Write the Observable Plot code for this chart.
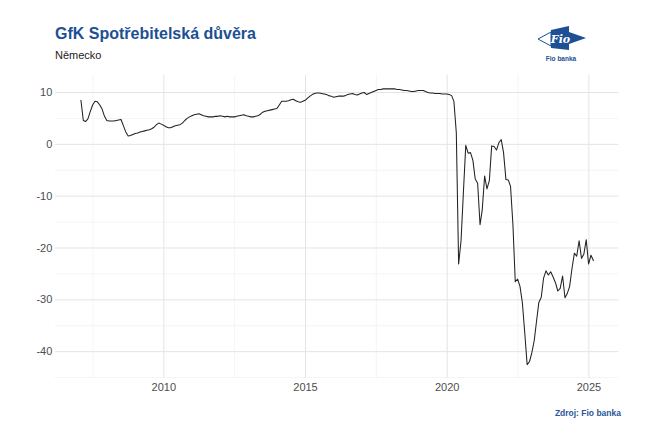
<!DOCTYPE html>
<html><head><meta charset="utf-8">
<script src="https://cdn.jsdelivr.net/npm/d3@7"></script>
<script src="https://cdn.jsdelivr.net/npm/@observablehq/plot@0.6"></script>
<style>
body{margin:0;background:#fff;font-family:"Liberation Sans",Arial,sans-serif;}
#wrap{position:relative;width:645px;height:447px;overflow:hidden;}
#title{position:absolute;left:55px;top:26px;font-size:16px;line-height:16px;font-weight:bold;color:#1c4f94;white-space:nowrap;}
#subtitle{position:absolute;left:55px;top:50px;font-size:11px;line-height:11px;color:#222;}
#logo{position:absolute;left:536px;top:26px;}
#chart{position:absolute;left:0;top:70px;}
#caption{position:absolute;right:24px;top:408px;font-size:8.5px;line-height:10px;font-weight:bold;color:#2a5599;}
</style></head>
<body>
<div id="wrap">
  <div id="title">GfK Spotřebitelská důvěra</div>
  <div id="subtitle">Německo</div>
  <svg id="logo" width="54" height="40" viewBox="0 0 54 40">
    <polygon points="2,13 15,6 15,20" fill="#fff" stroke="#1c4f94" stroke-width="1"/>
    <polygon points="15,4 33,0 33,24 15,22" fill="#1c4f94"/>
    <polygon points="33,6 50,12 33,18" fill="#1c4f94"/>
    <text x="24.5" y="17" text-anchor="middle" fill="#fff" font-family="'DejaVu Serif',serif" font-style="italic" font-weight="bold" font-size="11">Fio</text>
    <text x="25" y="35" text-anchor="middle" fill="#1c4f94" font-family="'Liberation Sans',Arial,sans-serif" font-weight="bold" font-size="6.5">Fio banka</text>
  </svg>
  <div id="chart"></div>
  <div id="caption">Zdroj: Fio banka</div>
</div>
<script>
// GfK consumer climate, Germany – monthly values
const y2007 = [8.5, 4.6, 4.4, 4.9, 6.3, 7.6, 8.3, 8.2, 7.6, 6.8, 5.4, 4.6];
const y2008 = [4.5, 4.5, 4.5, 4.6, 4.7, 4.8, 3.6, 2.4, 1.6, 1.7, 1.9, 2.1];
const y2009 = [2.2, 2.4, 2.5, 2.6, 2.7, 2.8, 3.0, 3.3, 3.8, 4.1, 3.9, 3.7];
const y2010 = [3.4, 3.2, 3.2, 3.4, 3.6, 3.7, 3.8, 4.1, 4.6, 5.0, 5.3, 5.5];
const y2011 = [5.7, 5.8, 5.9, 5.7, 5.5, 5.4, 5.3, 5.3, 5.3, 5.4, 5.4, 5.5];
const y2012 = [5.4, 5.3, 5.4, 5.3, 5.3, 5.3, 5.4, 5.5, 5.6, 5.7, 5.5, 5.4];
const y2013 = [5.3, 5.3, 5.4, 5.5, 5.8, 6.2, 6.4, 6.5, 6.6, 6.7, 6.8, 6.9];
const y2014 = [7.6, 8.3, 8.3, 8.3, 8.4, 8.6, 8.7, 8.4, 8.2, 8.1, 8.3, 8.5];
const y2015 = [8.9, 9.3, 9.6, 9.8, 9.9, 9.9, 9.8, 9.7, 9.6, 9.4, 9.3, 9.1];
const y2016 = [9.2, 9.3, 9.3, 9.3, 9.4, 9.6, 9.7, 9.8, 9.6, 9.5, 9.7, 9.9];
const y2017 = [10.0, 9.6, 9.8, 10.0, 10.2, 10.4, 10.6, 10.6, 10.7, 10.7, 10.7, 10.7];
const y2018 = [10.7, 10.7, 10.6, 10.6, 10.5, 10.4, 10.4, 10.3, 10.2, 10.2, 10.3, 10.4];
const y2019 = [10.4, 10.4, 10.2, 10.0, 9.9, 9.9, 9.8, 9.8, 9.8, 9.7, 9.7, 9.7];
const y2020 = [9.6, 9.4, 8.3, 2.3, -23.1, -18.6, -9.4, -0.2, -1.7, -1.6, -3.1, -6.7];
const y2021 = [-7.5, -15.5, -12.7, -6.1, -8.6, -7.0, -0.3, -0.4, -1.1, 0.3, 0.9, -1.6];
const y2022 = [-6.8, -6.9, -8.1, -15.5, -26.5, -26.0, -27.4, -30.6, -36.5, -42.5, -41.9, -40.2];
const y2023 = [-37.8, -33.9, -30.5, -29.5, -25.8, -24.4, -25.2, -24.6, -25.6, -26.7, -28.3, -27.8];
const y2024 = [-25.4, -29.6, -28.8, -27.4, -24.0, -21.0, -21.6, -18.6, -22.0, -21.2, -18.4, -23.1];
const y2025 = [-21.4, -22.4];

const seriesYears = [2007,2008,2009,2010,2011,2012,2013,2014,2015,2016,2017,2018,2019,2020,2021,2022,2023,2024,2025];
const seriesValues = [y2007,y2008,y2009,y2010,y2011,y2012,y2013,y2014,y2015,y2016,y2017,y2018,y2019,y2020,y2021,y2022,y2023,y2024,y2025];

const xTickYears = [2010, 2015, 2020, 2025];
const xMinorYears = [2007.5, 2012.5, 2017.5, 2022.5];
const yTicks = [10, 0, -10, -20, -30, -40];
const yMinor = [5, -5, -15, -25, -35, -45];

const data = [];
seriesYears.forEach((yr, k) => seriesValues[k].forEach((v, i) => data.push({date: new Date(Date.UTC(yr, i, 28)), value: v})));

const yearToDate = y => new Date(Date.UTC(Math.floor(y), 0, 1) + (y - Math.floor(y)) * 365.25 * 864e5);
const t0 = +data[0].date, t1 = +data[data.length - 1].date, span = t1 - t0;
const xDomain = [new Date(t0 - 0.05 * span), new Date(t1 + 0.05 * span)];
const [vmin, vmax] = d3.extent(data, d => d.value);
const yDomain = [vmin - 0.05 * (vmax - vmin), vmax + 0.05 * (vmax - vmin)];

const chart = Plot.plot({
  width: 645, height: 335,
  marginLeft: 54.8, marginRight: 26.5, marginTop: 4.6, marginBottom: 27.1,
  style: {fontFamily: "'Liberation Sans', Arial, sans-serif", fontSize: "11px", color: "#4d4d4d", background: "white"},
  x: {type: "utc", domain: xDomain},
  y: {domain: yDomain},
  marks: [
    Plot.ruleY(yMinor, {stroke: "#efefef", strokeWidth: 0.7}),
    Plot.ruleX(xMinorYears.map(yearToDate), {stroke: "#efefef", strokeWidth: 0.7}),
    Plot.ruleY(yTicks, {stroke: "#e4e4e4", strokeWidth: 1}),
    Plot.ruleX(xTickYears.map(yearToDate), {stroke: "#e4e4e4", strokeWidth: 1}),
    Plot.axisX(xTickYears.map(yearToDate), {tickSize: 0, tickPadding: 5, tickFormat: d3.utcFormat("%Y"), label: null}),
    Plot.axisY(yTicks, {tickSize: 0, tickPadding: 3, tickFormat: d => String(d), label: null}),
    Plot.lineY(data, {x: "date", y: "value", stroke: "#222", strokeWidth: 1.05})
  ]
});
document.getElementById("chart").appendChild(chart);
</script>
</body></html>
